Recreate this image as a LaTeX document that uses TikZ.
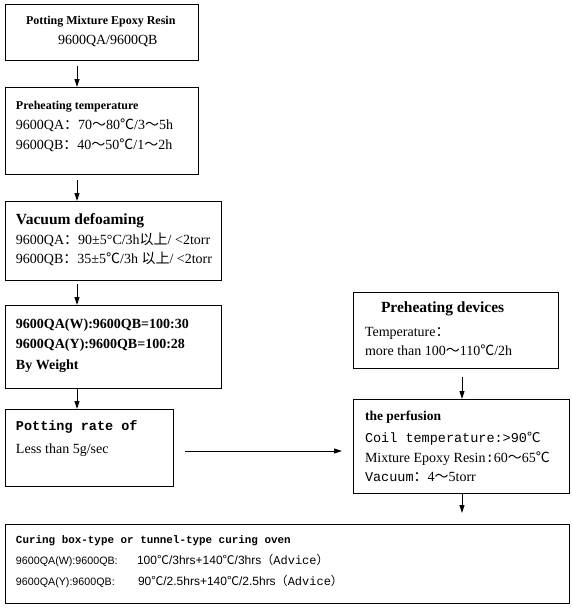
\documentclass[tikz,border=0pt]{standalone}
\usepackage{fontspec}
\setmainfont{Liberation Serif}
\newfontfamily\cjk{Noto Sans CJK SC}
\newfontfamily\monof{Liberation Mono}
\newfontfamily\sansf{Liberation Sans}
\usetikzlibrary{arrows.meta}
\newcommand{\DegC}{{\cjk ℃}}
\newcommand{\Tld}{{\cjk ～}}
\newcommand{\FCol}{{\cjk ：}}
\newcommand{\fs}[1]{\fontsize{#1}{#1}\selectfont}
\begin{document}
\begin{tikzpicture}[x=1pt,y=-1pt,
  box/.style={draw, line width=0.9pt, anchor=north west, inner sep=0pt, outer sep=0pt},
  txt/.style={anchor=base west, inner sep=0pt, outer sep=0pt, font=\fs{14}},
  hd/.style={txt, font=\bfseries\fs{12}},
  hdb/.style={txt, font=\bfseries\fs{15.5}},
  arr/.style={line width=0.9pt, -{Triangle[length=8pt,width=5pt]}}]
\useasboundingbox (0,0) rectangle (571,610);
% boxes
\node[box, minimum width=193pt, minimum height=56pt] (b1) at (5,4) {};
\node[box, minimum width=193pt, minimum height=87pt] (b2) at (5,87) {};
\node[box, minimum width=216pt, minimum height=79pt] (b3) at (5,201) {};
\node[box, minimum width=216pt, minimum height=83pt] (b4) at (5,305) {};
\node[box, minimum width=168pt, minimum height=77pt] (b5) at (5,409) {};
\node[box, minimum width=205pt, minimum height=76pt] (r1) at (353,292) {};
\node[box, minimum width=216pt, minimum height=94pt] (r2) at (353,399) {};
\node[box, minimum width=564pt, minimum height=79pt] (b6) at (5,524) {};
% texts box 1
\node[hd] (t11) at (26,25) {Potting Mixture Epoxy Resin};
\node[txt] (t12) at (58,45) {9600QA/9600QB};
% box 2
\node[hd] (t21) at (16,109) {Preheating temperature};
\node[txt] (t22) at (16,129) {9600QA\FCol 70\Tld 80\DegC/3\Tld 5h};
\node[txt] (t23) at (16,149) {9600QB\FCol 40\Tld 50\DegC/1\Tld 2h};
% box 3
\node[hdb] (t31) at (16,224) {Vacuum defoaming};
\node[txt] (t32) at (16,244) {9600QA\FCol 90±5°C/3h{\cjk 以上}/ <2torr};
\node[txt] (t33) at (16,263) {9600QB\FCol 35±5\DegC/3h {\cjk 以上}/ <2torr};
% box 4
\node[txt, font=\bfseries\fs{14}] (t41) at (16,328) {9600QA(W):9600QB=100:30};
\node[txt, font=\bfseries\fs{14}] (t42) at (16,348) {9600QA(Y):9600QB=100:28};
\node[txt, font=\bfseries\fs{14}] (t43) at (16,369) {By Weight};
% box 5
\node[txt, font=\monof\bfseries\fs{13.5}] (t51) at (16,430) {Potting rate of};
\node[txt] (t52) at (16,453) {Less than 5g/sec};
% right box 1
\node[hdb] (t61) at (381,312) {Preheating devices};
\node[txt] (t62) at (365,336) {Temperature\FCol};
\node[txt] (t63) at (365,355) {more than 100\Tld 110\DegC/2h};
% right box 2
\node[txt, font=\bfseries\fs{13.5}] (t71) at (365,420) {the perfusion};
\node[txt, font=\monof\fs{13.5}] (t72) at (365,442) {Coil temperature:>90\DegC};
\node[txt] (t73) at (365,462) {Mixture Epoxy Resin{\monof :}60\Tld 65\DegC};
\node[txt] (t74) at (365,481) {{\monof\fs{13.5}Vacuum}\FCol 4\Tld 5torr};
% bottom box
\node[txt, font=\monof\bfseries\fs{10.9}] (t81) at (16,543) {Curing box-type or tunnel-type curing oven};
\node[txt, font=\sansf\fs{10.7}] (t82) at (16,564) {9600QA(W):9600QB:};
\node[txt, font=\sansf\fs{12}] (t83) at (137,564) {100\DegC/3hrs+140\DegC/3hrs{\cjk （}{\monof Advice}{\cjk ）}};
\node[txt, font=\sansf\fs{10.7}] (t84) at (16,585) {9600QA(Y):9600QB:};
\node[txt, font=\sansf\fs{12}] (t85) at (138,585) {90\DegC/2.5hrs+140\DegC/2.5hrs{\cjk （}{\monof Advice}{\cjk ）}};
% arrows
\coordinate (lx) at (77,0);
\coordinate (rx) at (462,0);
\coordinate (hy) at (0,451);
\draw[arr] ([yshift=-6pt]b1.south -| lx) -- (b2.north -| lx);
\draw[arr] ([yshift=-6pt]b2.south -| lx) -- (b3.north -| lx);
\draw[arr] ([yshift=-4pt]b3.south -| lx) -- (b4.north -| lx);
\draw[arr] (b4.south -| lx) -- (b5.north -| lx);
\draw[arr] ([xshift=12pt]b5.east |- hy) -- ([xshift=-11pt]r2.west |- hy);
\draw[arr] ([yshift=-9pt]r1.south -| rx) -- (r2.north -| rx);
\draw[arr] (r2.south -| rx) -- ([yshift=11pt]b6.north -| rx);
\end{tikzpicture}
\end{document}
